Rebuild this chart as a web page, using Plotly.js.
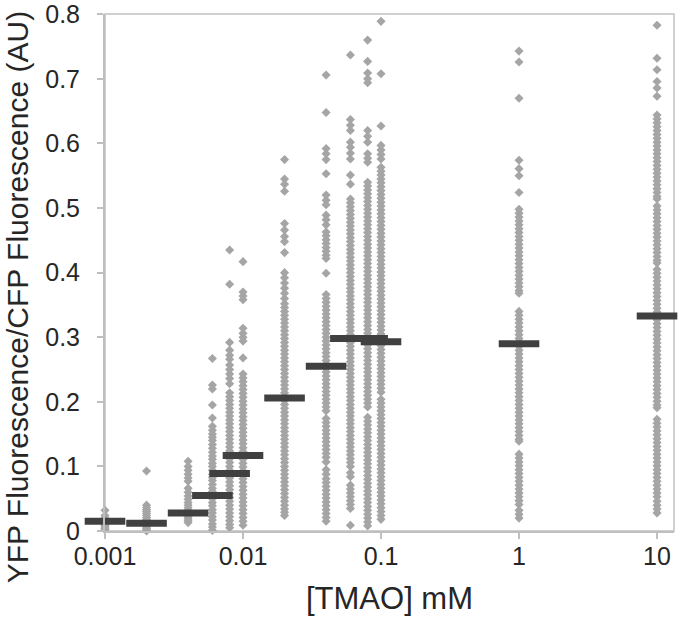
<!DOCTYPE html>
<html>
<head>
<meta charset="utf-8">
<script src="https://cdn.plot.ly/plotly-3.0.1.min.js"></script>
<style>html,body{margin:0;padding:0;background:#fff;}#chart{width:680px;height:628px;}</style>
</head>
<body>
<div id="chart"></div>
<script>
// TMAO concentrations (mM) for each column of points
const concentrations = [0.001, 0.002, 0.004, 0.006, 0.008, 0.01, 0.02, 0.04, 0.06, 0.08, 0.1, 1, 10];

// Mean value (dark bar) for each concentration
const means = [0.015, 0.012, 0.028, 0.055, 0.089, 0.117, 0.206, 0.255, 0.298, 0.298, 0.293, 0.290, 0.333];

// Individual cell ratios (YFP/CFP) per concentration
const c0001 = [0.032, 0.024, 0.020, 0.017, 0.014, 0.012, 0.010, 0.008, 0.006, 0.004, 0.002];
const c0002 = [0.093, 0.040, 0.036, 0.033, 0.030, 0.027, 0.024, 0.021, 0.018, 0.015, 0.012, 0.010, 0.008, 0.006, 0.004, 0.002, 0.000];
const c0004 = [0.108, 0.100, 0.094, 0.088, 0.082, 0.077, 0.066, 0.060, 0.054, 0.049, 0.044, 0.040, 0.036, 0.032, 0.028, 0.025, 0.022, 0.019, 0.016, 0.013];
const c0006 = [0.267, 0.226, 0.220, 0.195, 0.175, 0.162, 0.156, 0.150, 0.145, 0.140, 0.134, 0.128, 0.122, 0.116, 0.111, 0.105, 0.100, 0.094, 0.088, 0.083, 0.078, 0.072, 0.066, 0.061, 0.055, 0.050, 0.044, 0.039, 0.033, 0.028, 0.022, 0.017, 0.011, 0.006, 0.001];
const c0008 = [0.435, 0.382, 0.292, 0.280, 0.272, 0.266, 0.257, 0.250, 0.243, 0.236, 0.228, 0.214, 0.208, 0.202, 0.196, 0.190, 0.184, 0.178, 0.172, 0.166, 0.160, 0.154, 0.148, 0.142, 0.136, 0.130, 0.124, 0.118, 0.112, 0.106, 0.100, 0.094, 0.088, 0.082, 0.076, 0.070, 0.064, 0.058, 0.052, 0.046, 0.040, 0.034, 0.028, 0.022, 0.016, 0.010, 0.005];
const c001 = [0.417, 0.370, 0.364, 0.358, 0.314, 0.306, 0.300, 0.294, 0.268, 0.243, 0.237, 0.231, 0.225, 0.219, 0.213, 0.207, 0.201, 0.195, 0.189, 0.183, 0.177, 0.171, 0.165, 0.159, 0.153, 0.147, 0.141, 0.135, 0.129, 0.123, 0.117, 0.111, 0.105, 0.099, 0.093, 0.087, 0.081, 0.075, 0.069, 0.063, 0.057, 0.051, 0.045, 0.039, 0.033, 0.027, 0.021, 0.015, 0.009];
const c002 = [0.575, 0.545, 0.537, 0.526, 0.476, 0.466, 0.456, 0.448, 0.431, 0.400, 0.392, 0.384, 0.376, 0.368, 0.360, 0.352, 0.346, 0.340, 0.334, 0.328, 0.322, 0.316, 0.310, 0.304, 0.298, 0.292, 0.286, 0.280, 0.274, 0.268, 0.262, 0.256, 0.250, 0.244, 0.238, 0.232, 0.226, 0.220, 0.214, 0.208, 0.202, 0.196, 0.190, 0.184, 0.178, 0.172, 0.166, 0.160, 0.154, 0.148, 0.142, 0.136, 0.130, 0.124, 0.118, 0.112, 0.106, 0.100, 0.094, 0.088, 0.082, 0.076, 0.070, 0.064, 0.058, 0.052, 0.046, 0.040, 0.034, 0.029, 0.024];
const c004 = [0.706, 0.648, 0.592, 0.584, 0.575, 0.553, 0.520, 0.512, 0.505, 0.489, 0.482, 0.474, 0.463, 0.457, 0.451, 0.445, 0.439, 0.433, 0.427, 0.422, 0.399, 0.366, 0.360, 0.354, 0.348, 0.342, 0.336, 0.330, 0.324, 0.318, 0.312, 0.306, 0.300, 0.294, 0.288, 0.282, 0.276, 0.270, 0.264, 0.258, 0.252, 0.246, 0.240, 0.234, 0.228, 0.222, 0.216, 0.210, 0.204, 0.198, 0.192, 0.186, 0.174, 0.168, 0.162, 0.156, 0.150, 0.144, 0.138, 0.132, 0.126, 0.120, 0.114, 0.107, 0.095, 0.088, 0.081, 0.075, 0.069, 0.063, 0.057, 0.051, 0.045, 0.039, 0.033, 0.027, 0.021, 0.015];
const c006 = [0.737, 0.637, 0.628, 0.620, 0.602, 0.594, 0.585, 0.576, 0.551, 0.537, 0.514, 0.508, 0.502, 0.496, 0.490, 0.484, 0.478, 0.472, 0.466, 0.460, 0.454, 0.448, 0.442, 0.436, 0.430, 0.424, 0.418, 0.412, 0.406, 0.400, 0.394, 0.388, 0.382, 0.376, 0.370, 0.364, 0.358, 0.352, 0.346, 0.340, 0.334, 0.328, 0.322, 0.316, 0.310, 0.304, 0.298, 0.292, 0.286, 0.280, 0.274, 0.268, 0.262, 0.256, 0.250, 0.244, 0.238, 0.232, 0.226, 0.220, 0.214, 0.208, 0.202, 0.196, 0.190, 0.184, 0.178, 0.172, 0.166, 0.160, 0.154, 0.148, 0.142, 0.136, 0.130, 0.124, 0.118, 0.112, 0.106, 0.100, 0.090, 0.084, 0.071, 0.065, 0.059, 0.053, 0.047, 0.041, 0.035, 0.009];
const c008 = [0.760, 0.727, 0.709, 0.700, 0.694, 0.620, 0.611, 0.602, 0.584, 0.577, 0.571, 0.540, 0.534, 0.528, 0.522, 0.516, 0.510, 0.504, 0.498, 0.492, 0.486, 0.480, 0.474, 0.468, 0.462, 0.456, 0.450, 0.444, 0.438, 0.432, 0.426, 0.420, 0.414, 0.408, 0.402, 0.396, 0.390, 0.384, 0.378, 0.372, 0.366, 0.360, 0.354, 0.348, 0.342, 0.336, 0.330, 0.324, 0.318, 0.312, 0.306, 0.300, 0.294, 0.288, 0.282, 0.276, 0.270, 0.264, 0.258, 0.252, 0.246, 0.240, 0.234, 0.228, 0.222, 0.216, 0.210, 0.204, 0.198, 0.192, 0.176, 0.170, 0.164, 0.158, 0.152, 0.146, 0.140, 0.134, 0.128, 0.122, 0.116, 0.110, 0.104, 0.098, 0.092, 0.086, 0.080, 0.074, 0.068, 0.062, 0.056, 0.050, 0.044, 0.038, 0.032, 0.026, 0.020, 0.014, 0.008];
const c01 = [0.789, 0.708, 0.627, 0.597, 0.590, 0.583, 0.576, 0.563, 0.557, 0.551, 0.545, 0.539, 0.533, 0.527, 0.521, 0.515, 0.509, 0.503, 0.497, 0.491, 0.485, 0.479, 0.473, 0.467, 0.461, 0.455, 0.449, 0.443, 0.437, 0.431, 0.425, 0.419, 0.413, 0.407, 0.401, 0.395, 0.389, 0.383, 0.377, 0.371, 0.365, 0.359, 0.353, 0.347, 0.341, 0.335, 0.329, 0.323, 0.317, 0.311, 0.305, 0.299, 0.293, 0.287, 0.281, 0.275, 0.269, 0.263, 0.257, 0.251, 0.245, 0.239, 0.233, 0.227, 0.221, 0.215, 0.204, 0.198, 0.192, 0.186, 0.180, 0.174, 0.168, 0.162, 0.156, 0.150, 0.144, 0.138, 0.132, 0.126, 0.120, 0.114, 0.108, 0.102, 0.096, 0.090, 0.084, 0.078, 0.072, 0.066, 0.060, 0.054, 0.048, 0.042, 0.036, 0.030, 0.024, 0.018];
const c1 = [0.743, 0.726, 0.670, 0.574, 0.561, 0.550, 0.524, 0.498, 0.492, 0.486, 0.480, 0.474, 0.468, 0.462, 0.456, 0.450, 0.444, 0.438, 0.432, 0.426, 0.420, 0.414, 0.408, 0.402, 0.396, 0.390, 0.384, 0.378, 0.372, 0.368, 0.340, 0.334, 0.328, 0.322, 0.316, 0.310, 0.304, 0.298, 0.292, 0.286, 0.280, 0.274, 0.268, 0.262, 0.256, 0.250, 0.244, 0.238, 0.232, 0.226, 0.220, 0.214, 0.208, 0.202, 0.196, 0.190, 0.184, 0.178, 0.172, 0.166, 0.160, 0.154, 0.148, 0.142, 0.139, 0.119, 0.113, 0.107, 0.101, 0.095, 0.089, 0.083, 0.077, 0.071, 0.065, 0.059, 0.053, 0.047, 0.041, 0.032, 0.026, 0.020];
const c10 = [0.783, 0.732, 0.714, 0.696, 0.686, 0.673, 0.644, 0.638, 0.632, 0.626, 0.620, 0.614, 0.608, 0.602, 0.596, 0.590, 0.584, 0.578, 0.572, 0.566, 0.560, 0.554, 0.548, 0.542, 0.536, 0.530, 0.524, 0.518, 0.514, 0.503, 0.497, 0.491, 0.485, 0.479, 0.473, 0.467, 0.461, 0.455, 0.449, 0.443, 0.437, 0.431, 0.425, 0.419, 0.415, 0.405, 0.399, 0.393, 0.387, 0.381, 0.375, 0.369, 0.363, 0.357, 0.351, 0.345, 0.339, 0.333, 0.327, 0.321, 0.315, 0.309, 0.303, 0.297, 0.291, 0.285, 0.279, 0.273, 0.267, 0.261, 0.255, 0.249, 0.243, 0.237, 0.231, 0.225, 0.219, 0.213, 0.207, 0.201, 0.195, 0.191, 0.173, 0.167, 0.161, 0.155, 0.149, 0.143, 0.137, 0.131, 0.125, 0.119, 0.113, 0.107, 0.101, 0.095, 0.089, 0.083, 0.077, 0.071, 0.065, 0.059, 0.053, 0.046, 0.040, 0.034, 0.028];

const columns = [c0001, c0002, c0004, c0006, c0008, c001, c002, c004, c006, c008, c01, c1, c10];

// Axis ticks and titles
const xTickVals = [0.001, 0.01, 0.1, 1, 10];
const xTickText = ['0.001', '0.01', '0.1', '1', '10'];
const yTickVals = [0, 0.1, 0.2, 0.3, 0.4, 0.5, 0.6, 0.7, 0.8];
const yTickText = ['0', '0.1', '0.2', '0.3', '0.4', '0.5', '0.6', '0.7', '0.8'];
const xTitle = '[TMAO] mM';
const yTitle = 'YFP Fluorescence/CFP Fluorescence (AU)';

const px = [], py = [];
columns.forEach((col, i) => {
  col.forEach(v => { px.push(concentrations[i]); py.push(v); });
});

const font = 'Liberation Sans, Arial, sans-serif';
const textColor = '#262626';
const axisColor = '#bfbfbf';

const traces = [
  {
    type: 'scatter', mode: 'markers', x: px, y: py, cliponaxis: false,
    marker: {symbol: 'diamond', size: 7, color: '#a5a5a5', line: {width: 0}},
    hoverinfo: 'x+y', showlegend: false
  },
  {
    type: 'scatter', mode: 'markers', x: concentrations, y: means, cliponaxis: false,
    marker: {symbol: 'line-ew-open', size: 29, color: '#404040', line: {width: 7, color: '#404040'}},
    hoverinfo: 'x+y', showlegend: false
  }
];

const layout = {
  width: 680, height: 628,
  margin: {l: 105, r: 6, t: 14, b: 97},
  paper_bgcolor: '#ffffff', plot_bgcolor: '#ffffff',
  font: {family: font, color: textColor},
  showlegend: false,
  xaxis: {
    type: 'log', range: [-3, 1.123],
    tickvals: xTickVals, ticktext: xTickText,
    ticks: 'outside', ticklen: 6, tickwidth: 2, tickcolor: axisColor,
    ticklabelstandoff: -4,
    showline: true, linecolor: axisColor, linewidth: 2,
    showgrid: false, zeroline: false,
    tickfont: {size: 25, family: font, color: textColor},
    title: {text: xTitle, font: {size: 31, family: font, color: textColor}, standoff: 18}
  },
  yaxis: {
    range: [0, 0.8004],
    tickvals: yTickVals, ticktext: yTickText,
    ticks: 'outside', ticklen: 6, tickwidth: 2, tickcolor: axisColor,
    ticklabelstandoff: 12, ticklabeloverflow: 'allow',
    showline: true, linecolor: axisColor, linewidth: 2,
    showgrid: false, zeroline: false,
    tickfont: {size: 25, family: font, color: textColor}
  },
  annotations: [
    {text: yTitle, xref: 'paper', yref: 'paper', x: -0.1547, y: 0.452,
     xanchor: 'center', yanchor: 'middle', textangle: -90, showarrow: false,
     font: {size: 30, family: font, color: textColor}}
  ],
  shapes: [
    {type: 'rect', xref: 'paper', yref: 'paper', x0: 0, x1: 1, y0: 0, y1: 1, layer: 'below',
     line: {color: '#d0d0d0', width: 2}}
  ]
};

Plotly.newPlot('chart', traces, layout, {displayModeBar: false, staticPlot: true});
</script>
</body>
</html>
